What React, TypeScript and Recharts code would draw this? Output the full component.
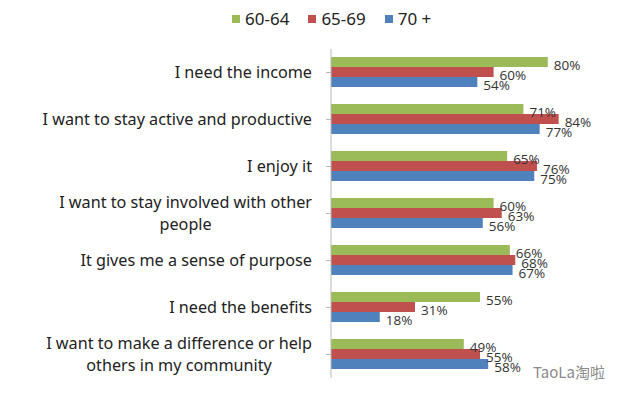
import React from 'react'
import { BarChart, Bar, XAxis, YAxis, LabelList } from 'recharts'

const categories = [
  'I need the income',
  'I want to stay active and productive',
  'I enjoy it',
  'I want to stay involved with other\npeople',
  'It gives me a sense of purpose',
  'I need the benefits',
  'I want to make a difference or help\nothers in my community',
]
const age6064 = [80, 71, 65, 60, 66, 55, 49]
const age6569 = [60, 84, 76, 63, 68, 31, 55]
const age70 = [54, 77, 75, 56, 67, 18, 58]

const seriesNames = ['60-64', '65-69', '70 +']
const COLORS = ['#9BBB59', '#C0504D', '#4F81BD']

const data = categories.map((c, i) => ({
  name: c,
  a: age6064[i],
  b: age6569[i],
  c: age70[i],
}))

const TICK_FONT = '16.2px "Noto Sans"'

let ctx: CanvasRenderingContext2D | null = null
const textWidth = (s: string) => {
  if (!ctx) ctx = document.createElement('canvas').getContext('2d')
  if (!ctx) return s.length * 7.5
  ctx.font = TICK_FONT
  return ctx.measureText(s).width
}

const CategoryTick = ({ x, y, payload }: any) => {
  const lines: string[] = String(payload.value).split('\n')
  const maxW = Math.max(...lines.map(textWidth))
  const cx = x - maxW / 2
  const lh = 22
  return (
    <g>
      {lines.map((l, i) => (
        <text
          key={i}
          x={cx}
          y={y + (i - (lines.length - 1) / 2) * lh}
          dy="0.35em"
          textAnchor="middle"
          fill="#222"
          style={{ font: TICK_FONT }}
        >
          {l}
        </text>
      ))}
    </g>
  )
}

const ValueLabel = ({ x, y, width, height, value }: any) => (
  <text
    x={x + width + 6}
    y={y + height / 2 + 3}
    dy="0.35em"
    fill="#333"
    style={{ font: '13.5px "Open Sans"' }}
  >
    {value}%
  </text>
)

export default function App() {
  return (
    <div style={{ position: 'absolute', left: 0, top: 0, width: 624, height: 399, background: '#fff', overflow: 'hidden' }}>
      <div
        style={{
          position: 'absolute', top: 7, left: 232, display: 'flex', alignItems: 'center',
          font: '17px "Noto Sans"', color: '#222',
        }}
      >
        {seriesNames.map((n, i) => (
          <div key={n} style={{ display: 'flex', alignItems: 'center', marginRight: 19 }}>
            <span style={{ width: 8, height: 8, background: COLORS[i], marginRight: 5, display: 'inline-block' }} />
            {n}
          </div>
        ))}
      </div>
      <BarChart
        width={624}
        height={399}
        data={data}
        layout="vertical"
        margin={{ top: 49, right: 22, bottom: 21, left: 0 }}
        barCategoryGap={8}
        barGap={0}
      >
        <XAxis type="number" domain={[0, 100]} hide />
        <YAxis
          type="category"
          dataKey="name"
          width={331}
          interval={0}
          axisLine={{ stroke: '#b8b8b8' }}
          tickLine={{ stroke: '#b8b8b8' }}
          tickSize={5}
          tickMargin={14}
          tick={<CategoryTick />}
        />
        <Bar dataKey="a" fill={COLORS[0]} isAnimationActive={false}>
          <LabelList dataKey="a" content={<ValueLabel />} />
        </Bar>
        <Bar dataKey="b" fill={COLORS[1]} isAnimationActive={false}>
          <LabelList dataKey="b" content={<ValueLabel />} />
        </Bar>
        <Bar dataKey="c" fill={COLORS[2]} isAnimationActive={false}>
          <LabelList dataKey="c" content={<ValueLabel />} />
        </Bar>
      </BarChart>
      <div style={{ position: 'absolute', left: 533, top: 361, font: '15px "Noto Sans CJK SC"', color: '#8a8a8a' }}>
        TaoLa淘啦
      </div>
    </div>
  )
}
